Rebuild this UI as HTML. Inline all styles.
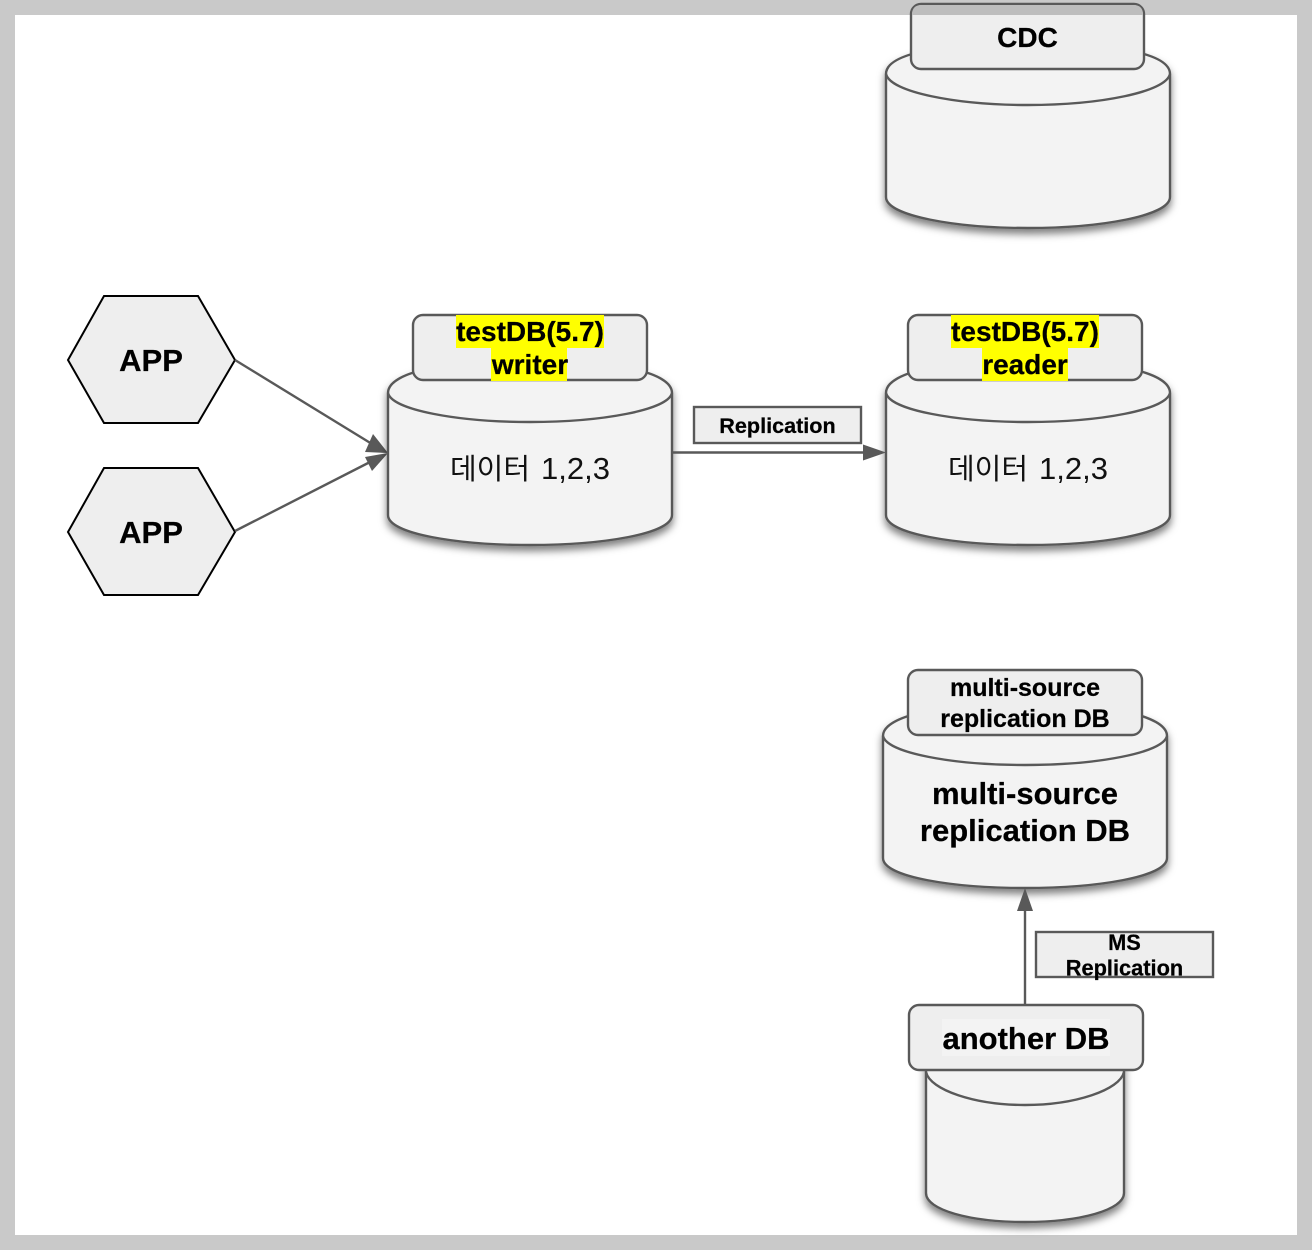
<!DOCTYPE html>
<html><head><meta charset="utf-8">
<style>
html,body{margin:0;padding:0;background:#fff;}
svg{display:block;}
text{font-family:"Liberation Sans","Noto Sans CJK KR",sans-serif;fill:#000;}
.b{font-weight:bold;text-anchor:middle;stroke:#000;stroke-width:0.25px;}
.k{fill:#111;}
.box{fill:#eeeeee;stroke:#595959;stroke-width:2.4;}
.ln{stroke:#595959;stroke-width:2.4;fill:none;}
.ah{fill:#595959;stroke:none;}
.hex{fill:#eeeeee;stroke:#000;stroke-width:2;stroke-linejoin:miter;}
.cyl{fill:#f3f3f3;stroke:#595959;stroke-width:2.4;}
.rim{fill:none;stroke:#595959;stroke-width:2.4;}
</style></head>
<body>
<svg width="1312" height="1250" viewBox="0 0 1312 1250" xmlns="http://www.w3.org/2000/svg">
<defs>
<filter id="sh" x="-10%" y="-10%" width="120%" height="130%">
<feDropShadow dx="0" dy="5" stdDeviation="4" flood-color="#000" flood-opacity="0.5"/>
</filter>
</defs>
<rect width="1312" height="1250" fill="#c9c9c9"/>
<rect x="15" y="15" width="1282" height="1220" fill="#ffffff"/>

<!-- CDC cylinder -->
<path class="cyl" filter="url(#sh)" d="M886 74 C886 52 950 43 1028 43 C1106 43 1170 52 1170 74 L1170 197 C1170 216 1100 228 1028 228 C956 228 886 216 886 197 Z"/>
<path class="rim" d="M886 74 C890 92 956 105 1028 105 C1100 105 1166 92 1170 74"/>
<rect class="box" x="911" y="4" width="233" height="65" rx="10" ry="10"/>
<path d="M912 15 L912 14 C912 8 916 5 921 5 L1134 5 C1139 5 1143 8 1143 14 L1143 15 Z" fill="#bdbdbd"/>
<text class="b" x="1027.500" y="47" font-size="28">CDC</text>

<!-- Hexagons -->
<polygon class="hex" points="68,360 104,296 198,296 235,360 198,423 104,423"/>
<text class="b" x="151" y="371" font-size="31">APP</text>
<polygon class="hex" points="68,532 104,468 198,468 235,532 198,595 104,595"/>
<text class="b" x="151" y="543" font-size="31">APP</text>

<!-- APP arrows -->
<line class="ln" x1="235" y1="360" x2="372" y2="444"/>
<polygon class="ah" points="388,453 365,452 373,434"/>
<line class="ln" x1="235" y1="531" x2="372" y2="461"/>
<polygon class="ah" points="388,453 372,471 365,457"/>

<!-- Writer cylinder -->
<path class="cyl" filter="url(#sh)" d="M388 393 C388 371 452 360 530 360 C608 360 672 371 672 393 L672 515 C672 534 602 545 530 545 C458 545 388 534 388 515 Z"/>
<path class="rim" d="M388 393 C392 410 458 422 530 422 C602 422 668 410 672 393"/>
<rect class="box" x="413" y="315" width="234" height="65" rx="10" ry="10"/>
<rect x="456" y="315" width="148" height="33" fill="#ffff00"/>
<rect x="491" y="348" width="76" height="33" fill="#ffff00"/>
<text class="b" x="530" y="341" font-size="28">testDB(5.7)</text>
<text class="b" x="530" y="374" font-size="28">writer</text>
<text class="k" x="450" y="479"><tspan font-size="29">데이터</tspan><tspan x="541" font-size="31">1,2,3</tspan></text>

<!-- Reader cylinder -->
<path class="cyl" filter="url(#sh)" d="M886 393 C886 371 950 360 1028 360 C1106 360 1170 371 1170 393 L1170 515 C1170 534 1100 545 1028 545 C956 545 886 534 886 515 Z"/>
<path class="rim" d="M886 393 C890 410 956 422 1028 422 C1100 422 1166 410 1170 393"/>
<rect class="box" x="908" y="315" width="234" height="65" rx="10" ry="10"/>
<rect x="951" y="315" width="148" height="33" fill="#ffff00"/>
<rect x="982" y="348" width="86" height="33" fill="#ffff00"/>
<text class="b" x="1025" y="341" font-size="28">testDB(5.7)</text>
<text class="b" x="1025" y="374" font-size="28">reader</text>
<text class="k" x="948" y="479"><tspan font-size="29">데이터</tspan><tspan x="1039" font-size="31">1,2,3</tspan></text>

<!-- Replication -->
<line class="ln" x1="672" y1="452.500" x2="866" y2="452.500"/>
<polygon class="ah" points="886,452.500 863,444.500 863,460.500"/>
<rect class="box" x="694" y="407" width="167" height="36"/>
<text class="b" x="777.500" y="433" font-size="21.600">Replication</text>

<!-- Multi-source cylinder -->
<path class="cyl" filter="url(#sh)" d="M883 736 C883 715 947 703 1025 703 C1103 703 1167 715 1167 736 L1167 858 C1167 877 1097 888 1025 888 C953 888 883 877 883 858 Z"/>
<path class="rim" d="M883 736 C887 753 953 765 1025 765 C1097 765 1163 753 1167 736"/>
<rect class="box" x="908" y="670" width="234" height="65" rx="10" ry="10"/>
<text class="b" x="1025" y="696" font-size="25">multi-source</text>
<text class="b" x="1025" y="727" font-size="25">replication DB</text>
<text class="b" x="1025" y="804" font-size="31">multi-source</text>
<text class="b" x="1025" y="841" font-size="31">replication DB</text>

<!-- MS replication -->
<line class="ln" x1="1025" y1="1005" x2="1025" y2="908"/>
<polygon class="ah" points="1025,888 1017,911 1033,911"/>
<rect class="box" x="1036" y="932" width="177" height="45"/>
<text class="b" x="1124.500" y="950" font-size="21.800">MS</text>
<text class="b" x="1124.500" y="975.500" font-size="21.800">Replication</text>

<!-- Another DB -->
<path class="cyl" filter="url(#sh)" d="M926 1062 L1124 1062 L1124 1193 C1124 1210 1080 1222 1025 1222 C970 1222 926 1210 926 1193 Z"/>
<path class="rim" d="M926 1072 C930 1090 975 1105 1025 1105 C1075 1105 1120 1090 1124 1072"/>
<rect class="box" x="909" y="1005" width="234" height="65" rx="10" ry="10"/>
<rect x="942" y="1019" width="168" height="37" fill="#f3f3f3"/>
<text class="b" x="1026" y="1049" font-size="31">another DB</text>
</svg>
</body></html>
